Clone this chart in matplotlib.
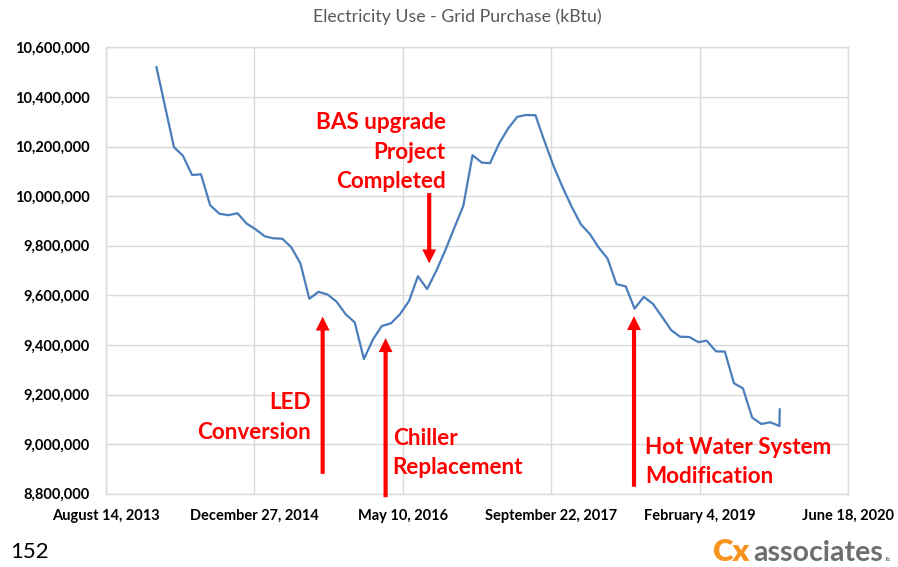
import matplotlib
matplotlib.use("Agg")
import matplotlib.pyplot as plt
from matplotlib.ticker import FuncFormatter
import pandas as pd

plt.rcParams['font.family'] = ['Lato', 'DejaVu Sans']

# ---- data -------------------------------------------------------------
first_date = pd.Timestamp("2014-01-31")
first_value = 10_520_000

monthly_dates = pd.date_range("2014-03-31", "2019-10-31", freq=pd.offsets.MonthEnd())
monthly_values = [
    10_197_000, 10_163_000, 10_085_000, 10_088_000, 9_963_000, 9_929_000,
    9_923_000, 9_931_000, 9_890_000, 9_866_000,                     # 2014
    9_838_000, 9_830_000, 9_828_000, 9_794_000, 9_729_000, 9_586_000,
    9_614_000, 9_603_000, 9_574_000, 9_523_000, 9_491_000, 9_343_000,  # 2015
    9_423_000, 9_476_000, 9_487_000, 9_523_000, 9_577_000, 9_677_000,
    9_625_000, 9_699_000, 9_781_000, 9_873_000, 9_961_000, 10_165_000,  # 2016
    10_135_000, 10_133_000, 10_213_000, 10_273_000, 10_320_000, 10_327_000,
    10_326_000, 10_219_000, 10_121_000, 10_034_000, 9_957_000, 9_886_000,  # 2017
    9_846_000, 9_794_000, 9_748_000, 9_645_000, 9_636_000, 9_546_000,
    9_594_000, 9_565_000, 9_514_000, 9_460_000, 9_433_000, 9_432_000,  # 2018
    9_411_000, 9_417_000, 9_374_000, 9_373_000, 9_245_000, 9_225_000,
    9_107_000, 9_081_000, 9_088_000, 9_073_000,                     # 2019
]
last_date = pd.Timestamp("2019-11-01")
last_value = 9_140_000

dates = [first_date] + list(monthly_dates) + [last_date]
values = [first_value] + monthly_values + [last_value]

x_start = pd.Timestamp("2013-08-14")
x_end = pd.Timestamp("2020-06-18")
x_tick_dates = pd.date_range(x_start, x_end, freq="500D")
x_tick_labels = ["August 14, 2013", "December 27, 2014", "May 10, 2016",
                 "September 22, 2017", "February 4, 2019", "June 18, 2020"]
y_ticks = list(range(8_800_000, 10_600_001, 200_000))

# project milestones: label, arrow date, arrow tail, arrow head
milestones = [
    ("LED\nConversion", "2015-08-14", 8_880_000, 9_514_000),
    ("Chiller\nReplacement", "2016-03-13", 8_786_000, 9_427_000),
    ("BAS upgrade\nProject\nCompleted", "2016-08-07", 10_012_000, 9_729_000),
    ("Hot Water System\nModification", "2018-06-28", 8_828_000, 9_516_000),
]
# label anchor: date, value, horizontal alignment
label_anchors = [
    ("2015-07-05", 9_108_000, "right"),
    ("2016-04-06", 8_964_000, "left"),
    ("2016-10-02", 10_177_000, "right"),
    ("2018-08-04", 8_928_000, "left"),
]

# ---- figure -----------------------------------------------------------
W, H = 898, 567
fig = plt.figure(figsize=(W / 100, H / 100), dpi=100)
ax = fig.add_axes([106 / W, 1 - 493.7 / H, (848 - 106) / W, (493.7 - 47.3) / H])

grid_c = "#d9d9d9"
ax.plot(dates, values, color="#4a7ebb", lw=1.6, solid_joinstyle="round", zorder=3)

ax.set_xlim(x_start, x_end)
ax.set_ylim(8_800_000, 10_600_000)
ax.set_xticks(x_tick_dates)
ax.set_xticklabels(x_tick_labels)
ax.set_yticks(y_ticks)
ax.yaxis.set_major_formatter(FuncFormatter(lambda v, p: f"{int(v):,}"))
ax.grid(True, color=grid_c, lw=1.0)
ax.set_axisbelow(True)
for s in ax.spines.values():
    s.set_color(grid_c)
    s.set_linewidth(1.0)
ax.tick_params(length=0, labelsize=10.5)
ax.tick_params(axis="x", pad=11)
ax.tick_params(axis="y", pad=12)
for lab in ax.get_xticklabels() + ax.get_yticklabels():
    lab.set_fontweight("bold")
    lab.set_color("black")

# milestone arrows and labels
for (label, d, tail, head), (ld, lv, ha) in zip(milestones, label_anchors):
    ax.annotate("", xy=(pd.Timestamp(d), head), xytext=(pd.Timestamp(d), tail),
                arrowprops=dict(arrowstyle="simple,head_width=1.0,head_length=1.0,tail_width=0.3",
                                mutation_scale=10, color="#ff0000", lw=0,
                                shrinkA=0, shrinkB=0),
                annotation_clip=False, zorder=4)
    ax.text(pd.Timestamp(ld), lv, label, ha=ha, va="center", color="#ff0000",
            fontsize=16.2, fontweight="bold", linespacing=1.5,
            multialignment=ha, zorder=5)

# title
fig.text(457 / W, 1 - 17 / H, "Electricity Use - Grid Purchase (kBtu)",
         ha="center", va="center", fontsize=12.8, color="#595959")

# page number
fig.text(10 / W, 1 - 552 / H, "152", ha="left", va="center", fontsize=16, color="black")

# company logo wordmark
fig.text(712 / W, 1 - 561 / H, "Cx", ha="left", va="baseline", fontsize=22.5,
         fontweight="heavy", color="#f7941d")
fig.text(753 / W, 1 - 561 / H, "associates", ha="left", va="baseline", fontsize=20.5,
         fontweight="bold", color="#6d6e71")
fig.text(886 / W, 1 - 561 / H, "llc", ha="left", va="baseline", fontsize=4,
         fontweight="bold", color="#6d6e71")

fig.savefig("out.png", dpi=100, facecolor="white")
